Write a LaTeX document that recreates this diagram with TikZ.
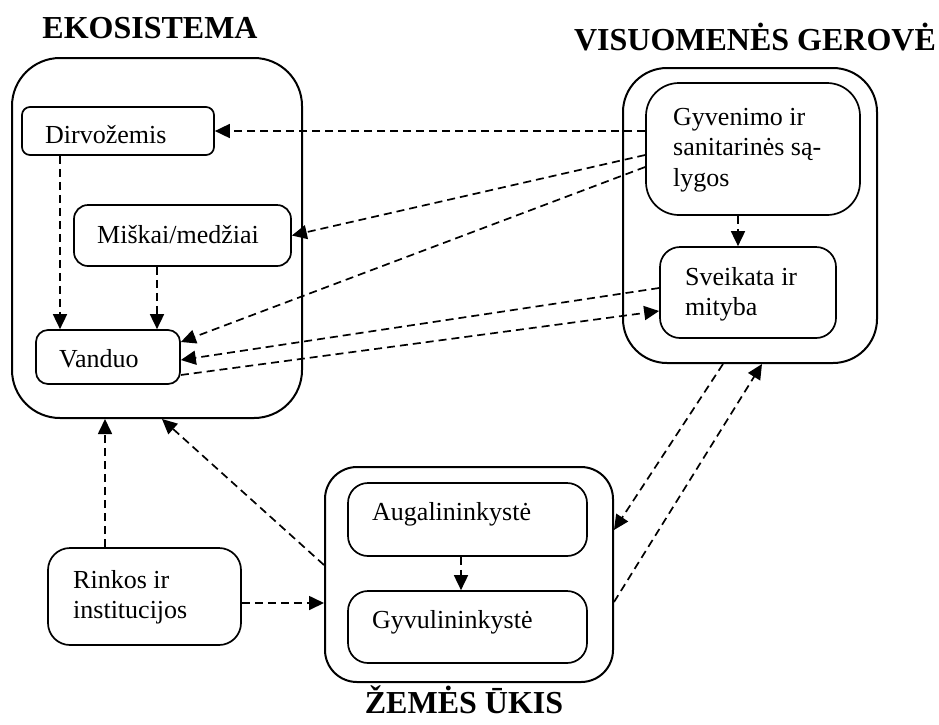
\documentclass[tikz,border=0pt]{standalone}
\usepackage{fontspec}
\setmainfont{Liberation Serif}
\usetikzlibrary{arrows.meta,calc}
% stacked lines whose first baseline sits at the node's base anchor
\newcommand\boxlines[1]{\begin{tabular}[t]{@{}l@{}}#1\end{tabular}}
\begin{document}
\begin{tikzpicture}[x=1pt,y=-1pt,
  panel/.style={draw,line width=2pt,inner sep=0pt},
  item/.style={draw,line width=1.7pt,inner sep=0pt},
  caption/.style={anchor=base west,inner sep=0pt,font=\fontsize{26}{30.5}\selectfont},
  heading/.style={anchor=base,inner sep=0pt,font=\fontsize{32}{36}\selectfont\bfseries},
  flow/.style={line width=1.7pt,dash pattern=on 8pt off 5pt,
    -{Triangle[length=15pt,width=14pt]}}]
\fill[white] (0,0) rectangle (939,724);
\useasboundingbox (0,0) rectangle (939,724);

% headings
\node[heading] (tEko) at (150,38) {EKOSISTEMA};
\node[heading] (tVisu) at (755,50) {VISUOMENĖS GEROVĖ};
\node[heading] (tZem) at (464,713) {ŽEMĖS ŪKIS};

% ecosystem
\node[panel,minimum width=290pt,minimum height=360pt,rounded corners=48pt] (eko) at (157,238) {};
\node[item,minimum width=192pt,minimum height=48pt,rounded corners=8pt] (dirv) at (118,131) {};
\node[item,minimum width=217pt,minimum height=61pt,rounded corners=14pt] (misk) at (182.5,235.5) {};
\node[item,minimum width=144pt,minimum height=54pt,rounded corners=12pt] (vand) at (108,357) {};
\node[caption] (lDirv) at (45,143) {Dirvožemis};
\node[caption] (lMisk) at (97,243) {Miškai/medžiai};
\node[caption] (lVand) at (59,367) {Vanduo};

% social welfare
\node[panel,minimum width=254pt,minimum height=295pt,rounded corners=44pt] (visu) at (750,215.5) {};
\node[item,minimum width=214pt,minimum height=132pt,rounded corners=33pt] (gyv) at (753,149) {};
\node[item,minimum width=176pt,minimum height=91pt,rounded corners=20pt] (svei) at (748,292.5) {};
\node[caption] (lGyv) at (673,125) {\boxlines{Gyvenimo ir\\sanitarinės są-\\lygos}};
\node[caption] (lSvei) at (685,285) {\boxlines{Sveikata ir\\mityba}};

% agriculture
\node[panel,minimum width=288pt,minimum height=215pt,rounded corners=32pt] (zem) at (469,574.5) {};
\node[item,minimum width=239pt,minimum height=73pt,rounded corners=20pt] (aug) at (467.5,519.5) {};
\node[item,minimum width=239pt,minimum height=72pt,rounded corners=20pt] (gyvu) at (467.5,627) {};
\node[caption] (lAug) at (372,520) {Augalininkystė};
\node[caption] (lGyvu) at (372,628) {Gyvulininkystė};

% markets and institutions
\node[item,minimum width=193pt,minimum height=97pt,rounded corners=22pt] (rink) at (144.5,596.5) {};
\node[caption] (lRink) at (73,588) {\boxlines{Rinkos ir\\institucijos}};

% links
\draw[flow] ([yshift=18pt]gyv.west) -- (dirv.east);
\draw[flow] ([yshift=-6pt]gyv.west) -- (misk.east);
\draw[flow] ([yshift=-18pt]gyv.west) -- ([yshift=15pt]vand.east);
\draw[flow] ([yshift=4.5pt]svei.west) -- ([yshift=-3pt]vand.east);
\draw[flow] ([yshift=-18pt]vand.east) -- ([yshift=-18.5pt]svei.west);
\draw[flow] ([xshift=-58pt]dirv.south) -- ([xshift=-58pt]dirv.south |- vand.north);
\draw[flow] ([xshift=-25.5pt]misk.south) -- ([xshift=-25.5pt]misk.south |- vand.north);
\draw[flow] ([xshift=-15pt]gyv.south) -- ([xshift=-15pt]gyv.south |- svei.north);
\draw[flow] ([xshift=-27pt]visu.south) -- ([yshift=44.5pt]zem.east);
\draw[flow] ([yshift=-27.5pt]zem.east) -- ([xshift=12pt]visu.south);
\draw[flow] ([yshift=9.5pt]zem.west) -- ([xshift=5pt]eko.south);
\draw[flow] ([xshift=-39.5pt]rink.north) -- ([xshift=-39.5pt]rink.north |- eko.south);
\draw[flow] ([yshift=-6.5pt]rink.east) -- ([yshift=-6.5pt]rink.east -| zem.west);
\draw[flow] ([xshift=-6.5pt]aug.south) -- ([xshift=-6.5pt]aug.south |- gyvu.north);
\end{tikzpicture}
\end{document}
